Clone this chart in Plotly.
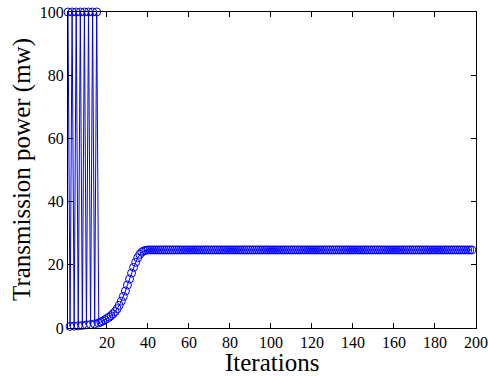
import plotly.graph_objects as go

# Iterations 1..198
iterations = list(range(1, 199))

# Early oscillating phase (iterations 1-16)
early_power = [100, 0.5, 100, 0.6, 100, 0.7, 100, 0.8, 100, 1.0, 100, 1.1, 100, 1.3, 100, 1.6]
# Rising phase (iterations 17-40)
rise_power = [1.9, 2.2, 2.6, 3.0, 3.4, 3.9, 4.5, 5.2, 6.1, 7.2, 8.5, 10.0, 11.7, 13.6,
              15.5, 17.4, 19.2, 20.8, 22.2, 23.3, 24.0, 24.4, 24.6, 24.7]
# Steady phase (iterations 41-198)
steady_power = [
    24.7, 24.7, 24.7, 24.7, 24.7, 24.7, 24.7, 24.7, 24.7, 24.7,
    24.7, 24.7, 24.7, 24.7, 24.7, 24.7, 24.7, 24.7, 24.7, 24.7,
    24.7, 24.7, 24.7, 24.7, 24.7, 24.7, 24.7, 24.7, 24.7, 24.7,
    24.7, 24.7, 24.7, 24.7, 24.7, 24.7, 24.7, 24.7, 24.7, 24.7,
    24.7, 24.7, 24.7, 24.7, 24.7, 24.7, 24.7, 24.7, 24.7, 24.7,
    24.7, 24.7, 24.7, 24.7, 24.7, 24.7, 24.7, 24.7, 24.7, 24.7,
    24.7, 24.7, 24.7, 24.7, 24.7, 24.7, 24.7, 24.7, 24.7, 24.7,
    24.7, 24.7, 24.7, 24.7, 24.7, 24.7, 24.7, 24.7, 24.7, 24.7,
    24.7, 24.7, 24.7, 24.7, 24.7, 24.7, 24.7, 24.7, 24.7, 24.7,
    24.7, 24.7, 24.7, 24.7, 24.7, 24.7, 24.7, 24.7, 24.7, 24.7,
    24.7, 24.7, 24.7, 24.7, 24.7, 24.7, 24.7, 24.7, 24.7, 24.7,
    24.7, 24.7, 24.7, 24.7, 24.7, 24.7, 24.7, 24.7, 24.7, 24.7,
    24.7, 24.7, 24.7, 24.7, 24.7, 24.7, 24.7, 24.7, 24.7, 24.7,
    24.7, 24.7, 24.7, 24.7, 24.7, 24.7, 24.7, 24.7, 24.7, 24.7,
    24.7, 24.7, 24.7, 24.7, 24.7, 24.7, 24.7, 24.7, 24.7, 24.7,
    24.7, 24.7, 24.7, 24.7, 24.7, 24.7, 24.7, 24.7,
]
power = early_power + rise_power + steady_power

x_ticks = [20, 40, 60, 80, 100, 120, 140, 160, 180, 200]
y_ticks = [0, 20, 40, 60, 80, 100]
x_title = "Iterations"
y_title = "Transmission power (mw)"

fig = go.Figure()
fig.add_trace(go.Scatter(
    x=iterations[:len(power)], y=power, mode="lines+markers",
    line=dict(color="#0000ff", width=1),
    marker=dict(symbol="circle-open", size=8, color="#0000ff", line=dict(width=1)),
    cliponaxis=False, showlegend=False,
))

font_family = "Liberation Serif, Times New Roman, serif"
axis_common = dict(
    showgrid=False, zeroline=False, showline=True, linecolor="black", linewidth=1,
    mirror="ticks", ticks="inside", ticklen=5, tickwidth=1, tickcolor="black",
    tickfont=dict(family=font_family, size=16, color="black"), automargin=False,
)
fig.update_xaxes(range=[1, 200], tickvals=x_ticks, **axis_common)
fig.update_yaxes(range=[0, 100], tickvals=y_ticks, **axis_common)

title_font = dict(family=font_family, size=25, color="black")
fig.add_annotation(text=x_title, xref="paper", yref="paper", x=0.5, y=0,
                   xanchor="center", yanchor="top", yshift=-19,
                   showarrow=False, font=title_font)
fig.add_annotation(text=y_title, xref="paper", yref="paper", x=0, y=0.5,
                   xanchor="center", yanchor="middle", xshift=-46, textangle=-90,
                   showarrow=False, font=title_font)

fig.update_layout(
    width=488, height=376,
    margin=dict(l=68, r=12, t=12, b=48),
    plot_bgcolor="white", paper_bgcolor="white",
)
fig.write_html("out.html", config={"displayModeBar": False},
               post_script="document.body.style.margin='0';document.body.style.padding='0';")
